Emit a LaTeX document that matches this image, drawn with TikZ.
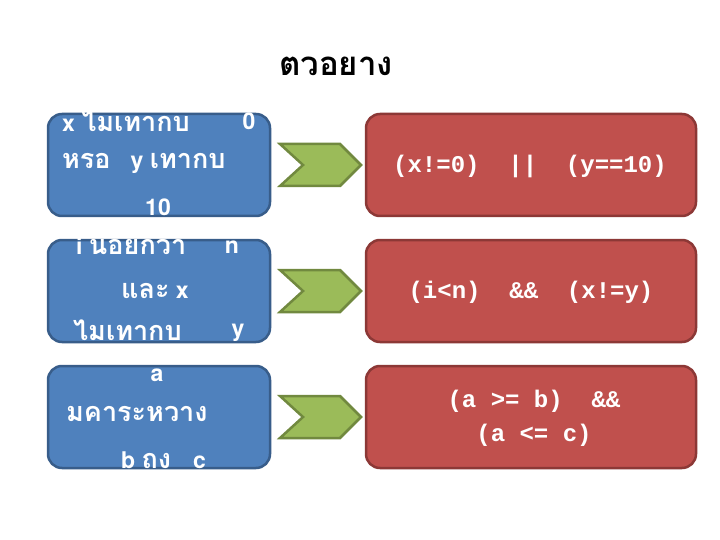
\documentclass[tikz,border=0pt]{standalone}
\usepackage{fontspec}
\setmainfont{Liberation Sans}
\setmonofont{Liberation Mono}
\newfontfamily\thaifont[Script=Thai]{Loma}
\newfontfamily\condfont{TeX Gyre Heros}
\definecolor{condblue}{RGB}{79,129,189}
\definecolor{condblueline}{RGB}{56,93,138}
\definecolor{exprred}{RGB}{192,80,77}
\definecolor{exprredline}{RGB}{140,56,54}
\definecolor{chevgreen}{RGB}{155,187,89}
\definecolor{chevgreenline}{RGB}{113,137,63}
\newcommand{\thaiword}[1]{{\thaifont\bfseries\fontsize{27}{28}\selectfont #1}}
\tikzset{
	condbox/.style={draw=condblueline, fill=condblue, line width=2.5pt, rounded corners=14pt, minimum width=222pt, minimum height=102pt},
	exprbox/.style={draw=exprredline, fill=exprred, line width=2.5pt, rounded corners=14pt, minimum width=330pt, minimum height=102pt},
	chevron/.style={draw=chevgreenline, fill=chevgreen, line width=2.5pt},
	condtxt/.style={text=white, inner sep=0pt, font=\condfont\bfseries\fontsize{23}{28}\selectfont},
	exprtxt/.style={text=white, inner sep=0pt, align=center, font=\ttfamily\bfseries\fontsize{24}{34}\selectfont}
}
\begin{document}
\begin{tikzpicture}[x=1pt, y=-1pt]
	\useasboundingbox[fill=white] (0,0) rectangle (720,540);
	\node[font=\thaifont\bfseries\fontsize{33}{33}\selectfont] (title) at (336,66) {ตวอยาง};
	% condition boxes
	\node[condbox] (c1) at (159,165) {};
	\node[condbox] (c2) at (159,291) {};
	\node[condbox] (c3) at (159,417) {};
	% expression boxes
	\node[exprbox] (e1) at (531,165) {};
	\node[exprbox] (e2) at (531,291) {};
	\node[exprbox] (e3) at (531,417) {};
	% chevrons
	\foreach \c in {165,291,417}
		\draw[chevron] (280,\c-21) -- (340,\c-21) -- (361,\c) -- (340,\c+21) -- (280,\c+21) -- (303,\c) -- cycle;
	% texts of the first pair
	\node[condtxt, anchor=west] (c1a) at (62,121) {x \thaiword{ไมเทากบ}};
	\node[condtxt] (c1b) at (249,121) {0};
	\node[condtxt, anchor=west] (c1c) at (62,163) {\thaiword{หรอ}\hspace{20pt}y \thaiword{เทากบ}};
	\node[condtxt] (c1d) at (158,207) {10};
	\node[exprtxt] (e1a) at (530,166) {(x!=0)~~||~~(y==10)};
	% texts of the second pair
	\node[condtxt, anchor=west] (c2a) at (76,246) {i \thaiword{นอยกวา}};
	\node[condtxt] (c2b) at (232,247) {n};
	\node[condtxt] (c2c) at (155,291) {\thaiword{และ} x};
	\node[condtxt, anchor=west] (c2d) at (73,330) {\thaiword{ไมเทากบ}};
	\node[condtxt] (c2e) at (238,333) {y};
	\node[exprtxt] (e2a) at (531,292) {(i<n)~~\&\&~~(x!=y)};
	% texts of the third pair
	\node[condtxt] (c3a) at (157,375) {a};
	\node[condtxt, anchor=west] (c3b) at (66,414) {\thaiword{มคาระหวาง}};
	\node[condtxt, anchor=west] (c3c) at (121,460) {b \thaiword{ถง}\hspace{22pt}c};
	\node[exprtxt] (e3a) at (534,418) {(a >= b)~~\&\&\\(a <= c)};
\end{tikzpicture}
\end{document}
